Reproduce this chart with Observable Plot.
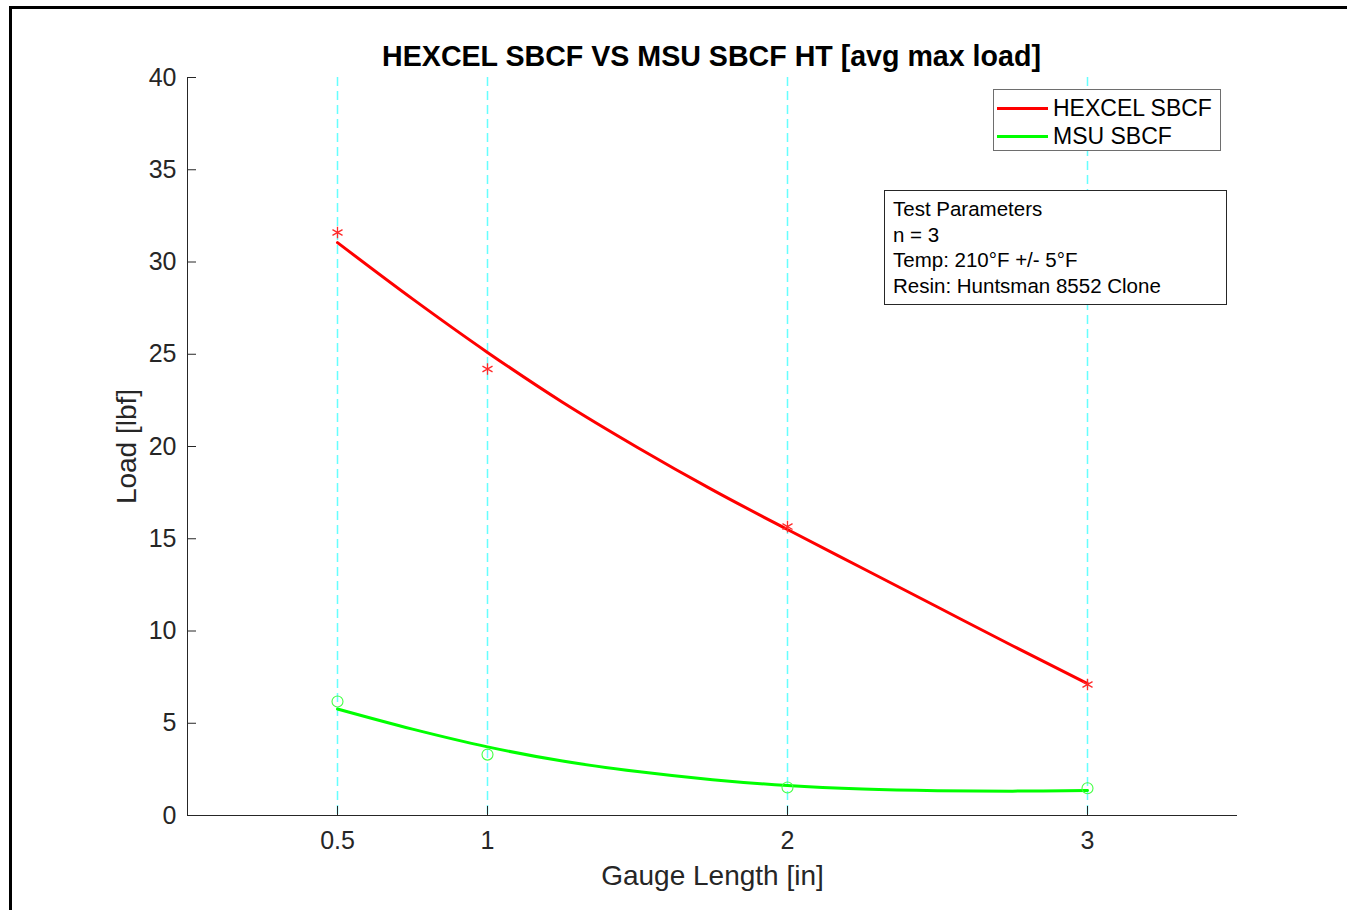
<!DOCTYPE html>
<html>
<head>
<meta charset="utf-8">
<script src="https://cdn.jsdelivr.net/npm/d3@7"></script>
<script src="https://cdn.jsdelivr.net/npm/@observablehq/plot@0.6"></script>
<style>
  html, body { margin: 0; padding: 0; background: #fff; }
  body { width: 1347px; height: 910px; position: relative; overflow: hidden; font-family: "Liberation Sans", Arial, sans-serif; }
  #outer { position: absolute; left: 9px; top: 6px; width: 2000px; height: 2000px; border-left: 3px solid #000; border-top: 3px solid #000; box-sizing: border-box; pointer-events: none; }
  #chart { position: absolute; left: 0; top: 0; }
  #legend { position: absolute; left: 993px; top: 89px; width: 228px; height: 62px; border: 1px solid #6e6e6e; box-sizing: border-box; background: #fff; }
  .lrow { position: absolute; left: 0; height: 28px; display: flex; align-items: center; font-size: 23px; color: #000; }
  .lrow .sw { display: inline-block; width: 51px; height: 3px; margin-left: 3px; margin-right: 5px; }
  #params { position: absolute; left: 884px; top: 190px; width: 343px; height: 115px; border: 1px solid #262626; box-sizing: border-box; background: #fff; padding: 5px 0 0 8px; font-size: 20.5px; line-height: 25.7px; color: #000; }
</style>
</head>
<body>
<div id="chart"></div>
<div id="legend"></div>
<div id="params"></div>
<div id="outer"></div>
<script>
// ---- data ----
const title = "HEXCEL SBCF VS MSU SBCF HT [avg max load]";
const xLabel = "Gauge Length [in]";
const yLabel = "Load [lbf]";
const seriesNames = ["HEXCEL SBCF", "MSU SBCF"];
const seriesColors = ["#ff0000", "#00ff00"];
const gaugeLengths = [0.5, 1, 2, 3];
const hexcelLoad = [31.6, 24.2, 15.66, 7.1];
const msuLoad = [6.18, 3.3, 1.52, 1.48];
const fitX = [0.5, 0.75, 1, 1.25, 1.5, 1.75, 2, 2.25, 2.5, 2.75, 3];
const hexcelFit = [31.05, 28.0, 25.1, 22.4, 19.95, 17.65, 15.5, 13.4, 11.3, 9.2, 7.15];
const msuFit = [5.77, 4.68, 3.72, 2.95, 2.38, 1.94, 1.62, 1.43, 1.34, 1.32, 1.36];
const xTicks = [0.5, 1, 2, 3];
const yTicks = [0, 5, 10, 15, 20, 25, 30, 35, 40];
const xDomain = [0, 3.5];
const yDomain = [0, 40];
const paramLines = ["Test Parameters", "n = 3", "Temp: 210°F +/- 5°F", "Resin: Huntsman 8552 Clone"];

const hexPts = gaugeLengths.map((x, i) => ({x, y: hexcelLoad[i]}));
const msuPts = gaugeLengths.map((x, i) => ({x, y: msuLoad[i]}));
const hexFitPts = fitX.map((x, i) => ({x, y: hexcelFit[i]}));
const msuFitPts = fitX.map((x, i) => ({x, y: msuFit[i]}));

const axisColor = "#262626";
const font = "Liberation Sans, Arial, sans-serif";

const chart = Plot.plot({
  width: 1347,
  height: 910,
  marginLeft: 187,
  marginRight: 110,
  marginTop: 77,
  marginBottom: 95,
  style: {fontFamily: font, background: "transparent", overflow: "visible"},
  x: {domain: xDomain},
  y: {domain: yDomain},
  marks: [
    Plot.ruleX(xTicks, {stroke: "#66ffff", strokeWidth: 1.5, strokeDasharray: "9,5"}),
    Plot.ruleX(xTicks, {stroke: axisColor, strokeWidth: 1, insetTop: 729}),
    Plot.ruleY(yTicks, {stroke: axisColor, strokeWidth: 1, insetRight: 1041}),
    Plot.ruleX([xDomain[0]], {stroke: axisColor, strokeWidth: 1}),
    Plot.ruleY([yDomain[0]], {stroke: axisColor, strokeWidth: 1}),
    Plot.axisX({ticks: xTicks, tickSize: 0, tickPadding: 16, fontSize: 25, fill: axisColor, label: null, tickFormat: d => String(d)}),
    Plot.axisY({ticks: yTicks, tickSize: 0, tickPadding: 11, fontSize: 25, fill: axisColor, label: null, tickFormat: d => String(d)}),
    Plot.line(hexFitPts, {x: "x", y: "y", stroke: seriesColors[0], strokeWidth: 3, curve: "catmull-rom"}),
    Plot.line(msuFitPts, {x: "x", y: "y", stroke: seriesColors[1], strokeWidth: 3, curve: "catmull-rom"}),
    Plot.dot(hexPts, {x: "x", y: "y", symbol: "asterisk", r: 5.5, stroke: "#ff2a2a", strokeWidth: 1.3}),
    Plot.dot(msuPts, {x: "x", y: "y", symbol: "circle", r: 5.5, stroke: "#44ff44", strokeWidth: 1.1, fill: "none"}),
    Plot.text([title], {text: d => d, frameAnchor: "top", lineAnchor: "middle", dx: -1, dy: -21, fontSize: 28.6, fontWeight: "bold", fill: "#000"}),
    Plot.text([xLabel], {text: d => d, frameAnchor: "bottom", lineAnchor: "middle", dy: 61, fontSize: 28, fill: axisColor}),
    Plot.text([yLabel], {text: d => d, frameAnchor: "left", textAnchor: "middle", lineAnchor: "middle", dx: -60, rotate: -90, fontSize: 28, fill: axisColor})
  ]
});
document.getElementById("chart").appendChild(chart);

// legend
const legend = document.getElementById("legend");
seriesNames.forEach((name, i) => {
  const row = document.createElement("div");
  row.className = "lrow";
  row.style.top = (4 + i * 28) + "px";
  const sw = document.createElement("span");
  sw.className = "sw";
  sw.style.background = seriesColors[i];
  const t = document.createElement("span");
  t.textContent = name;
  row.appendChild(sw);
  row.appendChild(t);
  legend.appendChild(row);
});

// parameters box
const params = document.getElementById("params");
paramLines.forEach(line => {
  const d = document.createElement("div");
  d.textContent = line;
  params.appendChild(d);
});
</script>
</body>
</html>
